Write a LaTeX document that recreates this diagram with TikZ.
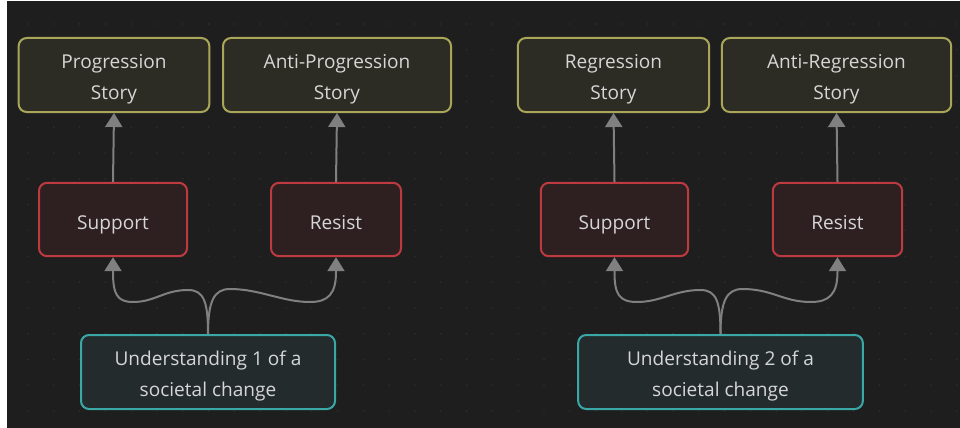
\documentclass[tikz,border=0pt]{standalone}
\usepackage{fontspec}
\setmainfont{Open Sans}
\usetikzlibrary{arrows.meta,calc}
\definecolor{bgc}{HTML}{1E1E1E}
\definecolor{dotc}{HTML}{2E2E2E}
\definecolor{txtc}{HTML}{D6D6D6}
\definecolor{storyb}{HTML}{A9A65A}
\definecolor{storyf}{HTML}{2C2C24}
\definecolor{redb}{HTML}{BC3A40}
\definecolor{redf}{HTML}{2E2021}
\definecolor{tealb}{HTML}{3AA8A6}
\definecolor{tealf}{HTML}{232B2C}
\definecolor{linec}{HTML}{808080}
\newcommand\firstline{\rule{0pt}{17pt}}
\tikzset{
  box/.style={rectangle, rounded corners=6pt, line width=1.5pt, align=center,
    text=txtc, font=\fontsize{14.3}{23.25}\selectfont, inner sep=0pt},
  storybox/.style={box, draw=storyb, fill=storyf, minimum height=55.5pt},
  redbox/.style={box, draw=redb, fill=redf, minimum height=55pt,
    text height=16pt, text depth=1pt},
  tealbox/.style={box, draw=tealb, fill=tealf, minimum height=55.5pt},
  conn/.style={draw=linec, line width=1.5pt, -{Triangle[width=12.75pt,length=10.5pt]}},
}
\begin{document}
\begin{tikzpicture}[x=0.75pt,y=-0.75pt]
\useasboundingbox (0,0) rectangle (960,428);
\fill[white] (0,0) rectangle (960,428);
\fill[bgc] (7,1) rectangle (960,428);
\foreach \i in {0,...,36} {
  \foreach \j in {0,...,15} {
    \fill[dotc] ({28+25.8*\i},{24+25.8*\j}) circle (0.9);
  }
}
% stories
\node[storybox, minimum width=143pt] (s1) at (114,75) {\firstline Progression\\Story};
\node[storybox, minimum width=171pt] (s2) at (337,75) {\firstline Anti-Progression\\Story};
\node[storybox, minimum width=143.5pt] (s3) at (613.5,75) {\firstline Regression\\Story};
\node[storybox, minimum width=172pt] (s4) at (836.5,75) {\firstline Anti-Regression\\Story};
% support / resist
\node[redbox, minimum width=111pt] (p1) at (113,219.5) {Support};
\node[redbox, minimum width=97.5pt] (r1) at (336,219.5) {Resist};
\node[redbox, minimum width=110.5pt] (p2) at (614.5,219.5) {Support};
\node[redbox, minimum width=97pt] (r2) at (837.5,219.5) {Resist};
% understandings
\node[tealbox, minimum width=190.5pt] (u1) at (208,372) {\firstline Understanding 1 of a\\societal change};
\node[tealbox, minimum width=213.5pt] (u2) at (720.5,372) {\firstline Understanding 2 of a\\societal change};
% vertical arrows
\draw[conn] (p1.north) -- (s1.south);
\draw[conn] (r1.north) -- (s2.south);
\draw[conn] (p2.north) -- (s3.south);
\draw[conn] (r2.north) -- (s4.south);
% curved arrows, left diagram
\draw[conn] (u1.north) .. controls +(0,-32) and +(16,0) .. (188,290)
  .. controls +(-24,0) and +(22,0) .. (133,302)
  .. controls +(-16,0) and +(0,22) .. (113,272) -- (p1.south);
\draw[conn] (u1.north) .. controls +(0,-33) and +(-16,0) .. (230,289)
  .. controls +(30,0) and +(-28,0) .. (310,302)
  .. controls +(18,0) and +(0,22) .. (336,272) -- (r1.south);
% curved arrows, right diagram
\draw[conn] (u2.north) .. controls +(0,-32) and +(16,0) .. (700.5,290)
  .. controls +(-26,0) and +(24,0) .. (637,302)
  .. controls +(-18,0) and +(0,22) .. (614.5,272) -- (p2.south);
\draw[conn] (u2.north) .. controls +(0,-33) and +(-16,0) .. (742.5,289)
  .. controls +(30,0) and +(-28,0) .. (811,302)
  .. controls +(18,0) and +(0,22) .. (837.5,272) -- (r2.south);
\end{tikzpicture}
\end{document}
